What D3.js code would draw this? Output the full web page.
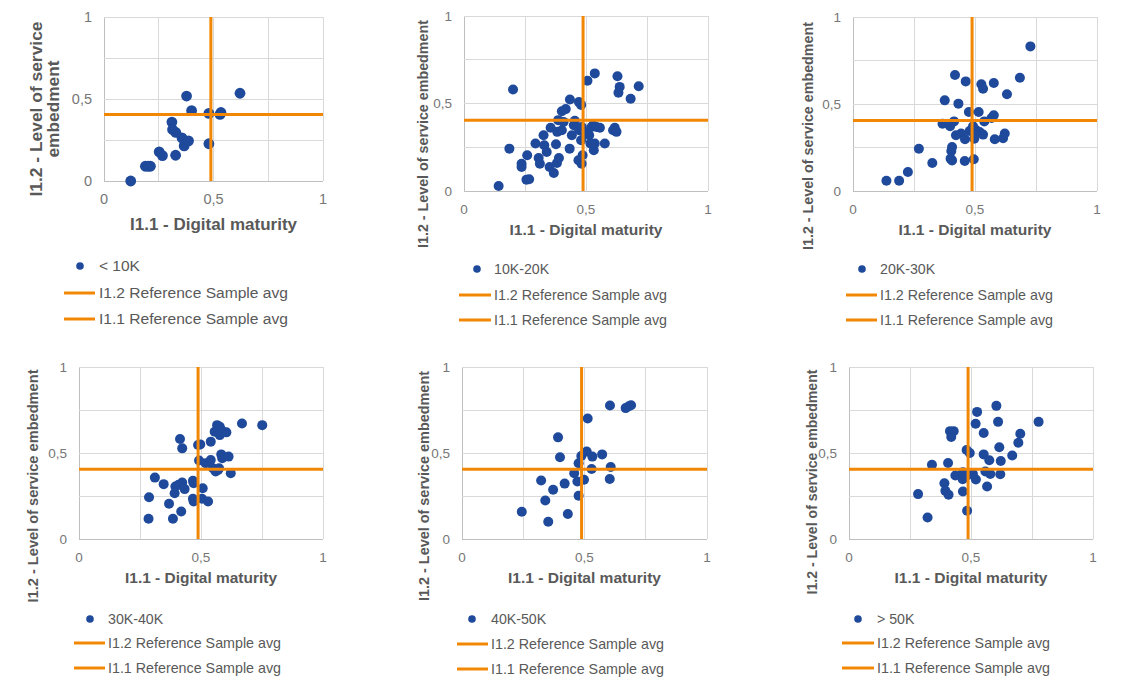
<!DOCTYPE html>
<html>
<head>
<meta charset="utf-8">
<script src="https://cdn.jsdelivr.net/npm/d3@7"></script>
<style>
  html, body { margin: 0; padding: 0; background: #ffffff; }
  svg { display: block; font-family: Arial, "Liberation Sans", sans-serif; }
</style>
</head>
<body>
<svg id="chart" width="1134" height="684"></svg>
<script>
// Company size classes and their (I1.1 digital maturity, I1.2 service embedment) scores
const sizeClasses = ["< 10K", "10K-20K", "20K-30K", "30K-40K", "40K-50K", "> 50K"];

const pointsLt10K = [
  [0.122, 0.000], [0.189, 0.090], [0.202, 0.090], [0.212, 0.090], [0.252, 0.178],
  [0.267, 0.155], [0.327, 0.157], [0.310, 0.359], [0.313, 0.314], [0.328, 0.296],
  [0.356, 0.263], [0.366, 0.214], [0.386, 0.245], [0.377, 0.518], [0.400, 0.429],
  [0.479, 0.412], [0.479, 0.227], [0.530, 0.406], [0.534, 0.418], [0.621, 0.535]
];

const points10K20K = [
  [0.142, 0.029], [0.186, 0.242], [0.201, 0.580], [0.236, 0.156], [0.236, 0.137],
  [0.259, 0.204], [0.256, 0.065], [0.267, 0.067], [0.293, 0.271], [0.306, 0.189],
  [0.311, 0.156], [0.326, 0.319], [0.329, 0.261], [0.339, 0.223], [0.351, 0.137],
  [0.355, 0.361], [0.368, 0.103], [0.377, 0.267], [0.381, 0.160], [0.389, 0.189],
  [0.382, 0.338], [0.386, 0.405], [0.401, 0.347], [0.408, 0.395], [0.401, 0.456],
  [0.417, 0.468], [0.434, 0.523], [0.433, 0.242], [0.442, 0.319], [0.450, 0.376],
  [0.454, 0.401], [0.469, 0.176], [0.471, 0.508], [0.480, 0.492], [0.472, 0.347],
  [0.480, 0.290], [0.482, 0.156], [0.486, 0.204], [0.483, 0.366], [0.491, 0.338],
  [0.506, 0.630], [0.536, 0.672], [0.513, 0.319], [0.523, 0.366], [0.529, 0.376],
  [0.518, 0.271], [0.532, 0.233], [0.536, 0.271], [0.543, 0.366], [0.557, 0.361],
  [0.577, 0.271], [0.611, 0.347], [0.618, 0.361], [0.625, 0.338], [0.629, 0.656],
  [0.638, 0.595], [0.633, 0.561], [0.683, 0.527], [0.716, 0.599]
];

const points20K30K = [
  [0.137, 0.059], [0.189, 0.059], [0.225, 0.109], [0.270, 0.243], [0.325, 0.161],
  [0.367, 0.387], [0.376, 0.521], [0.398, 0.372], [0.414, 0.400], [0.418, 0.667],
  [0.406, 0.253], [0.403, 0.230], [0.400, 0.186], [0.406, 0.176], [0.422, 0.320],
  [0.432, 0.502], [0.443, 0.330], [0.459, 0.297], [0.462, 0.630], [0.458, 0.172],
  [0.475, 0.454], [0.478, 0.345], [0.492, 0.372], [0.497, 0.301], [0.495, 0.182],
  [0.505, 0.349], [0.515, 0.454], [0.519, 0.339], [0.533, 0.324], [0.526, 0.613],
  [0.533, 0.588], [0.538, 0.400], [0.568, 0.420], [0.577, 0.435], [0.577, 0.621],
  [0.581, 0.297], [0.615, 0.303], [0.622, 0.330], [0.631, 0.556], [0.684, 0.651],
  [0.727, 0.831]
];

const points30K40K = [
  [0.287, 0.243], [0.285, 0.118], [0.311, 0.357], [0.347, 0.319], [0.369, 0.205],
  [0.385, 0.118], [0.392, 0.266], [0.395, 0.305], [0.408, 0.315], [0.414, 0.581],
  [0.423, 0.527], [0.419, 0.160], [0.423, 0.328], [0.433, 0.290], [0.467, 0.338],
  [0.470, 0.324], [0.467, 0.234], [0.470, 0.218], [0.488, 0.546], [0.497, 0.550],
  [0.492, 0.456], [0.504, 0.234], [0.507, 0.295], [0.519, 0.440], [0.529, 0.218],
  [0.540, 0.459], [0.540, 0.566], [0.549, 0.411], [0.560, 0.392], [0.570, 0.402],
  [0.574, 0.411], [0.556, 0.624], [0.566, 0.662], [0.577, 0.653], [0.583, 0.633],
  [0.577, 0.604], [0.590, 0.624], [0.604, 0.620], [0.583, 0.492], [0.587, 0.469],
  [0.613, 0.479], [0.622, 0.382], [0.668, 0.672], [0.751, 0.662]
];

const points40K50K = [
  [0.244, 0.158], [0.323, 0.340], [0.340, 0.224], [0.352, 0.100], [0.372, 0.286],
  [0.392, 0.591], [0.400, 0.475], [0.419, 0.322], [0.432, 0.145], [0.458, 0.382],
  [0.471, 0.334], [0.476, 0.440], [0.476, 0.251], [0.487, 0.483], [0.498, 0.344],
  [0.509, 0.508], [0.513, 0.701], [0.529, 0.407], [0.532, 0.479], [0.572, 0.492],
  [0.604, 0.776], [0.607, 0.419], [0.603, 0.349], [0.668, 0.761], [0.681, 0.772],
  [0.690, 0.778]
];

const pointsGt50K = [
  [0.283, 0.261], [0.322, 0.125], [0.340, 0.431], [0.391, 0.324], [0.395, 0.280],
  [0.408, 0.257], [0.406, 0.442], [0.414, 0.627], [0.429, 0.627], [0.419, 0.593],
  [0.436, 0.369], [0.467, 0.388], [0.466, 0.347], [0.467, 0.276], [0.484, 0.164],
  [0.482, 0.517], [0.495, 0.500], [0.484, 0.369], [0.508, 0.378], [0.520, 0.346],
  [0.519, 0.670], [0.525, 0.739], [0.552, 0.616], [0.552, 0.492], [0.559, 0.392],
  [0.566, 0.305], [0.575, 0.458], [0.579, 0.378], [0.604, 0.774], [0.611, 0.681],
  [0.616, 0.533], [0.622, 0.454], [0.620, 0.376], [0.669, 0.485], [0.694, 0.560],
  [0.702, 0.612], [0.777, 0.681]
];

// Reference sample averages, drawn as the orange cross-hair
const refAvgDigital = 0.488;   // I1.1
const refAvgService = 0.405;   // I1.2

const tickValues = [0, 0.5, 1];
const tickLabels = ["0", "0,5", "1"];
const gridValues = [0, 0.25, 0.5, 0.75, 1];

const xTitle = "I1.1 - Digital maturity";
const yTitle = "I1.2 - Level of service embedment";
const legendLineLabels = ["I1.2 Reference Sample avg", "I1.1 Reference Sample avg"];

const seriesSets = [pointsLt10K, points10K20K, points20K30K, points30K40K, points40K50K, pointsGt50K];

// Panel geometry (pixels)
const panels = [
  { px: [104, 323], py: [181, 17], r: 5.4, tickFs: 14.5, titleFs: 17, legFs: 15.5,
    xTitleY: 224, xTitleLen: 167,
    yTitle: { x: [36, 53], cy: 109, lens: [175, 97], lines: ["I1.2 - Level of service", "embedment"] },
    legend: { dotX: 80, lineX: [64, 95], textX: 99, rows: [266, 293, 319], longLen: 189 } },
  { px: [464, 708], py: [191, 16], r: 5, tickFs: 13.5, titleFs: 15.5, legFs: 14.2,
    xTitleY: 230, xTitleLen: 153,
    yTitle: { x: [423], cy: 134, lens: [228] },
    legend: { dotX: 477, lineX: [459, 491], textX: 494, rows: [269, 295, 320], longLen: 173 } },
  { px: [853, 1097], py: [191, 17], r: 5, tickFs: 13.5, titleFs: 15.5, legFs: 14.2,
    xTitleY: 230, xTitleLen: 153,
    yTitle: { x: [808], cy: 136, lens: [228] },
    legend: { dotX: 862, lineX: [846, 877], textX: 880, rows: [269, 295, 320], longLen: 173 } },
  { px: [79, 323], py: [539, 367], r: 5, tickFs: 13.5, titleFs: 15.5, legFs: 14.2,
    xTitleY: 578, xTitleLen: 152,
    yTitle: { x: [33], cy: 486, lens: [233] },
    legend: { dotX: 90, lineX: [74, 105], textX: 108, rows: [619, 643, 668], longLen: 173 } },
  { px: [462, 707], py: [539, 367], r: 5, tickFs: 13.5, titleFs: 15.5, legFs: 14.2,
    xTitleY: 578, xTitleLen: 153,
    yTitle: { x: [424], cy: 486, lens: [230] },
    legend: { dotX: 472, lineX: [457, 488], textX: 491, rows: [619, 644, 669], longLen: 173 } },
  { px: [849, 1093], py: [539, 367], r: 5, tickFs: 13.5, titleFs: 15.5, legFs: 14.2,
    xTitleY: 578, xTitleLen: 153,
    yTitle: { x: [812], cy: 482, lens: [225] },
    legend: { dotX: 858, lineX: [842, 874], textX: 877, rows: [619, 643, 668], longLen: 173 } }
];

const BLUE = "#1f4a9b";
const ORANGE = "#f28705";
const GRID = "#d9d9d9";
const AXIS = "#bfbfbf";
const TEXT = "#595959";
const TICK_TEXT = "#767676";

const svg = d3.select("#chart");

panels.forEach((p, i) => {
  const data = seriesSets[i];
  const x = d3.scaleLinear().domain([0, 1]).range(p.px);
  const y = d3.scaleLinear().domain([0, 1]).range(p.py);
  const g = svg.append("g");

  // gridlines
  g.selectAll("line.vgrid").data(gridValues).join("line")
    .attr("x1", d => x(d)).attr("x2", d => x(d))
    .attr("y1", y(0)).attr("y2", y(1))
    .attr("stroke", d => d === 0 ? AXIS : GRID).attr("stroke-width", 1)
    .attr("shape-rendering", "crispEdges");
  g.selectAll("line.hgrid").data(gridValues).join("line")
    .attr("x1", x(0)).attr("x2", x(1))
    .attr("y1", d => y(d)).attr("y2", d => y(d))
    .attr("stroke", d => d === 0 ? AXIS : GRID).attr("stroke-width", 1)
    .attr("shape-rendering", "crispEdges");

  // tick labels
  g.selectAll("text.ytick").data(tickValues).join("text")
    .attr("x", x(0) - 12).attr("y", d => y(d)).attr("dy", "0.35em")
    .attr("text-anchor", "end").attr("font-size", p.tickFs).attr("fill", TICK_TEXT)
    .text((d, k) => tickLabels[k]);
  g.selectAll("text.xtick").data(tickValues).join("text")
    .attr("x", d => x(d)).attr("y", y(0) + 18).attr("dy", "0.35em")
    .attr("text-anchor", "middle").attr("font-size", p.tickFs).attr("fill", TICK_TEXT)
    .text((d, k) => tickLabels[k]);

  // axis titles
  g.append("text")
    .attr("x", (x(0) + x(1)) / 2).attr("y", p.xTitleY).attr("dy", "0.35em")
    .attr("text-anchor", "middle").attr("font-size", p.titleFs).attr("font-weight", "bold")
    .attr("fill", TEXT)
    .attr("textLength", p.xTitleLen).attr("lengthAdjust", "spacingAndGlyphs")
    .text(xTitle);
  const yLines = p.yTitle.lines || [yTitle];
  yLines.forEach((t, k) => {
    g.append("text")
      .attr("transform", `translate(${p.yTitle.x[k]},${p.yTitle.cy}) rotate(-90)`)
      .attr("dy", "0.35em")
      .attr("text-anchor", "middle").attr("font-size", p.titleFs).attr("font-weight", "bold")
      .attr("fill", TEXT)
      .attr("textLength", p.yTitle.lens[k]).attr("lengthAdjust", "spacingAndGlyphs")
      .text(t);
  });

  // scatter points
  g.selectAll("circle.pt").data(data).join("circle")
    .attr("cx", d => x(d[0])).attr("cy", d => y(d[1]))
    .attr("r", p.r).attr("fill", BLUE);

  // reference averages
  g.append("line")
    .attr("x1", x(0)).attr("x2", x(1))
    .attr("y1", y(refAvgService)).attr("y2", y(refAvgService))
    .attr("stroke", ORANGE).attr("stroke-width", 3);
  g.append("line")
    .attr("x1", x(refAvgDigital)).attr("x2", x(refAvgDigital))
    .attr("y1", y(0)).attr("y2", y(1))
    .attr("stroke", ORANGE).attr("stroke-width", 3);

  // legend
  const L = p.legend;
  g.append("circle").attr("cx", L.dotX).attr("cy", L.rows[0]).attr("r", 3.8).attr("fill", BLUE);
  g.append("text").attr("x", L.textX).attr("y", L.rows[0]).attr("dy", "0.35em")
    .attr("font-size", p.legFs).attr("fill", TEXT).text(sizeClasses[i]);
  legendLineLabels.forEach((lab, k) => {
    const ry = L.rows[k + 1];
    g.append("line").attr("x1", L.lineX[0]).attr("x2", L.lineX[1])
      .attr("y1", ry).attr("y2", ry).attr("stroke", ORANGE).attr("stroke-width", 3);
    g.append("text").attr("x", L.textX).attr("y", ry).attr("dy", "0.35em")
      .attr("font-size", p.legFs).attr("fill", TEXT)
      .attr("textLength", L.longLen).attr("lengthAdjust", "spacingAndGlyphs")
      .text(lab);
  });
});
</script>
</body>
</html>
